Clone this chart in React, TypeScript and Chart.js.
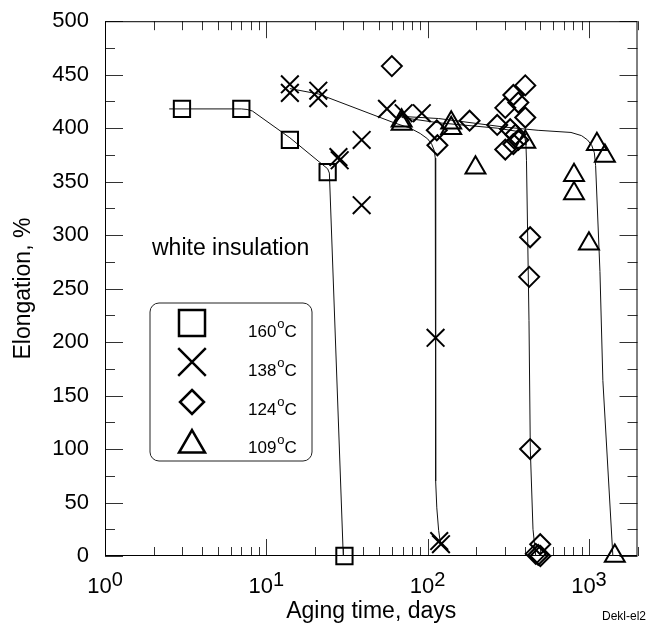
import React, { useEffect, useRef } from 'react';
import { Chart, registerables } from 'chart.js';

Chart.register(...registerables);

const FONT = '"Liberation Sans", Arial, Helvetica, sans-serif';

// ---- 160°C ----
const days160 = [3, 7, 14, 24, 30.5];
const elong160 = [418, 418, 389, 359, 0];
const fitDays160 = [2.5, 7, 7.6, 8.2, 14, 24, 24.6, 30];
const fitElong160 = [418, 418, 417.5, 416, 391, 362, 358, 0];

// ---- 138°C ----
const days138 = [14, 14, 21, 21, 28, 28.5, 39, 39, 56, 71, 92, 112, 118, 121];
const elong138 = [441, 433, 435, 428, 373, 370, 389, 328, 418, 414, 414, 204, 14, 11];
const fitDays138 = [14, 21, 62, 78, 90, 100, 106, 110, 111.5, 112, 112.3, 114, 117, 120];
const fitElong138 = [437, 432, 405, 400, 395, 390, 385, 379, 372, 360, 70, 45, 24, 12];

// ---- 124°C ----
const days124 = [60, 114, 115, 182, 270, 303, 303, 325, 340, 340, 350, 365, 365, 403, 403, 432, 426, 432, 499, 468, 500, 485];
const elong124 = [458, 398, 384, 407, 403, 419, 380, 399, 431, 385, 394, 424, 389, 440, 410, 298, 261, 100, 11, 2, 0, 1];
const fitDays124 = [69, 117, 270, 360, 390, 402, 407, 410, 425, 433, 450, 468];
const fitElong124 = [410, 405, 400, 397, 394, 390, 384, 370, 220, 100, 25, 0];

// ---- 109°C ----
const days109 = [69, 69, 140, 140, 198, 403, 808, 808, 1000, 1120, 1256, 1447];
const elong109 = [407, 404, 405, 400, 363, 387, 356, 339, 292, 385, 374, 0];
const fitDays109 = [69, 117, 300, 484, 774, 900, 980, 1040, 1080, 1100, 1170, 1220, 1407];
const fitElong109 = [411, 409, 401, 398, 396, 393, 389, 384, 377, 365, 266, 164, 0];

// ---- axes ----
const xDecades = [1, 10, 100, 1000];
const xExponents = ['0', '1', '2', '3'];
const xMin = 1;
const xMax = 2000;
const yMin = 0;
const yMax = 500;
const yMajorStep = 50;
const yMinorStep = 25;

// ---- legend ----
const legendTemps = ['160', '138', '124', '109'];
const legendStyles = ['rect', 'crossRot', 'rectRot', 'triangle'];
const noteText = 'white insulation';
const codeText = 'Dekl-el2';

const pts = (xs: number[], ys: number[]) => xs.map((x, i) => ({ x, y: ys[i] }));

const markerSet = (xs: number[], ys: number[], style: string, r: number) => ({
  data: pts(xs, ys),
  showLine: false,
  pointStyle: style,
  pointRadius: r,
  pointBorderWidth: 2,
  pointBorderColor: '#000',
  pointBackgroundColor: 'rgba(0,0,0,0)',
  clip: false,
  order: 0,
});

const fitSet = (xs: number[], ys: number[]) => ({
  data: pts(xs, ys),
  showLine: true,
  borderColor: '#111',
  borderWidth: 1,
  pointRadius: 0,
  tension: 0,
  fill: false,
  clip: false,
  order: 1,
});

function drawMarker(ctx: CanvasRenderingContext2D, style: string, x: number, y: number, r: number) {
  ctx.beginPath();
  if (style === 'rect') {
    const s = Math.SQRT1_2 * r;
    ctx.rect(x - s, y - s, 2 * s, 2 * s);
  } else if (style === 'crossRot') {
    const s = Math.SQRT1_2 * r;
    ctx.moveTo(x - s, y - s); ctx.lineTo(x + s, y + s);
    ctx.moveTo(x - s, y + s); ctx.lineTo(x + s, y - s);
  } else if (style === 'rectRot') {
    ctx.moveTo(x, y - r); ctx.lineTo(x + r, y); ctx.lineTo(x, y + r); ctx.lineTo(x - r, y); ctx.closePath();
  } else {
    const w = r * Math.sin(Math.PI / 3);
    ctx.moveTo(x, y - r); ctx.lineTo(x + w, y + r / 2); ctx.lineTo(x - w, y + r / 2); ctx.closePath();
  }
  ctx.stroke();
}

const decorPlugin = {
  id: 'decor',
  beforeDatasetsDraw(chart: any) {
    const { ctx, chartArea: a, scales } = chart;
    const xs = scales.x;
    const ys = scales.y;
    ctx.save();
    ctx.lineWidth = 1;
    ctx.strokeStyle = '#333';
    ctx.beginPath();
    for (let v = yMin; v <= yMax; v += yMinorStep) {
      const py = Math.round(ys.getPixelForValue(v)) + 0.5;
      const len = v % yMajorStep === 0 ? 18 : 10;
      ctx.moveTo(a.left, py); ctx.lineTo(a.left + len, py);
      ctx.moveTo(a.right, py); ctx.lineTo(a.right - len, py);
    }
    xDecades.forEach((d) => {
      for (let k = 1; k <= 9; k++) {
        const v = d * k;
        if (v > xMax) break;
        const px = Math.round(xs.getPixelForValue(v)) + 0.5;
        const len = k === 1 ? 17 : 9;
        ctx.moveTo(px, a.bottom); ctx.lineTo(px, a.bottom - len);
        ctx.moveTo(px, a.top); ctx.lineTo(px, a.top + len);
      }
    });
    ctx.stroke();
    ctx.strokeStyle = '#000';
    ctx.strokeRect(a.left + 0.5, a.top + 0.5, a.right - a.left - 1, a.bottom - a.top - 1);
    ctx.restore();
  },
  afterDraw(chart: any) {
    const { ctx, chartArea: a, scales } = chart;
    const xs = scales.x;
    ctx.save();
    ctx.fillStyle = '#000';
    ctx.strokeStyle = '#000';
    ctx.textBaseline = 'alphabetic';
    // x tick labels 10^n
    xDecades.forEach((d, i) => {
      const px = xs.getPixelForValue(d);
      ctx.font = `22px ${FONT}`;
      const w1 = ctx.measureText('10').width;
      ctx.font = `20px ${FONT}`;
      const w2 = ctx.measureText(xExponents[i]).width;
      const x0 = px - (w1 + w2) / 2;
      const base = a.bottom + 37;
      ctx.font = `22px ${FONT}`;
      ctx.textAlign = 'left';
      ctx.fillText('10', x0, base);
      ctx.font = `20px ${FONT}`;
      ctx.fillText(xExponents[i], x0 + w1, base - 7);
    });
    // note
    ctx.font = `23px ${FONT}`;
    ctx.textAlign = 'left';
    ctx.fillText(noteText, 152, 255);
    // code
    ctx.font = `12px ${FONT}`;
    ctx.fillText(codeText, 602, 620);
    // legend box
    const bx = 150, by = 303, bw = 162, bh = 158, rr = 9;
    ctx.lineWidth = 1;
    ctx.strokeStyle = '#222';
    ctx.beginPath();
    ctx.moveTo(bx + rr, by);
    ctx.lineTo(bx + bw - rr, by);
    ctx.arcTo(bx + bw, by, bx + bw, by + rr, rr);
    ctx.lineTo(bx + bw, by + bh - rr);
    ctx.arcTo(bx + bw, by + bh, bx + bw - rr, by + bh, rr);
    ctx.lineTo(bx + rr, by + bh);
    ctx.arcTo(bx, by + bh, bx, by + bh - rr, rr);
    ctx.lineTo(bx, by + rr);
    ctx.arcTo(bx, by, bx + rr, by, rr);
    ctx.stroke();
    const markerY = [323, 362, 402, 445];
    const markerR = [18.4, 19.5, 12, 15];
    const baseY = [337, 376, 415, 453];
    ctx.lineWidth = 2.5;
    ctx.strokeStyle = '#000';
    legendTemps.forEach((t, i) => {
      drawMarker(ctx, legendStyles[i], 192, markerY[i], markerR[i]);
      ctx.font = `17px ${FONT}`;
      ctx.fillText(t, 248, baseY[i]);
      const w = ctx.measureText(t).width;
      ctx.font = `13px ${FONT}`;
      ctx.fillText('o', 248 + w + 1, baseY[i] - 9);
      const wo = ctx.measureText('o').width;
      ctx.font = `17px ${FONT}`;
      ctx.fillText('C', 248 + w + wo + 1, baseY[i]);
    });
    ctx.restore();
  },
};

export default function App() {
  const ref = useRef<HTMLCanvasElement | null>(null);
  useEffect(() => {
    if (!ref.current) return;
    const chart = new Chart(ref.current, {
      type: 'scatter',
      data: {
        datasets: [
          markerSet(days160, elong160, 'rect', 11.5),
          markerSet(days138, elong138, 'crossRot', 12.5),
          markerSet(days124, elong124, 'rectRot', 10),
          markerSet(days109, elong109, 'triangle', 11.5),
          fitSet(fitDays160, fitElong160),
          fitSet(fitDays138, fitElong138),
          fitSet(fitDays124, fitElong124),
          fitSet(fitDays109, fitElong109),
        ] as any,
      },
      options: {
        animation: false,
        responsive: false,
        devicePixelRatio: 1,
        layout: { padding: { left: 0, right: 12, top: 18, bottom: 0 } },
        plugins: { legend: { display: false }, tooltip: { enabled: false } },
        scales: {
          x: {
            type: 'logarithmic',
            position: 'bottom',
            min: xMin,
            max: xMax,
            grid: { display: false },
            border: { display: false },
            ticks: { display: false },
            title: {
              display: true,
              text: 'Aging time, days',
              color: '#000',
              font: { family: FONT, size: 23 },
              padding: { top: 0, bottom: 2 },
            },
            afterFit: (s: any) => { s.height = 71; },
          },
          y: {
            type: 'linear',
            min: yMin,
            max: yMax,
            grid: { display: false },
            border: { display: false },
            ticks: { stepSize: yMajorStep, color: '#000', font: { family: FONT, size: 22 }, padding: 8 },
            title: {
              display: true,
              text: 'Elongation, %',
              color: '#000',
              font: { family: FONT, size: 23 },
              padding: { top: 10, bottom: 0 },
            },
            afterFit: (s: any) => { s.width = 105; },
          },
        },
      } as any,
      plugins: [decorPlugin],
    });
    return () => chart.destroy();
  }, []);
  return (
    <div style={{ position: 'absolute', left: 0, top: 0, width: 652, height: 627, background: '#fff' }}>
      <canvas ref={ref} width={652} height={627} />
    </div>
  );
}
